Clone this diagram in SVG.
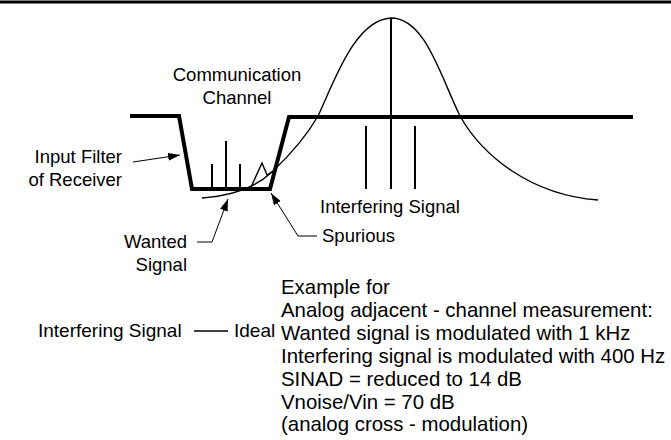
<svg xmlns="http://www.w3.org/2000/svg" width="671" height="440" viewBox="0 0 671 440">
  <style>
    text { font-family: "Liberation Sans", Arial, sans-serif; fill: #000; }
    .lbl { font-size: 18.5px; }
    .leg { font-size: 19px; }
    .note { font-size: 20.4px; }
    .thick { fill: none; stroke: #000; stroke-width: 4; stroke-linejoin: miter; }
    .bar { stroke: #000; stroke-width: 2; }
    .thin { fill: none; stroke: #000; stroke-width: 1.4; }
    .lead { fill: none; stroke: #000; stroke-width: 1; }
  </style>
  <defs>
    <marker id="arrow" viewBox="0 0 12 8" refX="12" refY="4" markerWidth="12" markerHeight="8" markerUnits="userSpaceOnUse" orient="auto">
      <path d="M0,0 L12,4 L0,8 z" fill="#000"/>
    </marker>
  </defs>

  <!-- page rule -->
  <line x1="0" y1="2" x2="671" y2="2" stroke="#000" stroke-width="3"/>

  <!-- receiver input filter passband -->
  <g id="input-filter">
    <path class="thick" d="M130,116 L179,116 L192,189 L270,189 L289,117 L633,117"/>
  </g>

  <!-- wanted signal spectrum lines -->
  <g id="wanted-signal">
    <line class="bar" x1="212" y1="164" x2="212" y2="189"/>
    <line class="bar" x1="226" y1="141" x2="226" y2="189"/>
    <line class="bar" x1="240" y1="164" x2="240" y2="189"/>
  </g>

  <!-- interfering signal envelope and spectrum lines -->
  <g id="interfering-signal">
    <path class="thin" d="M202,198 C230,196 255,188 272,172 C290,155 306,137 318,116 C335,80 355,20 391,18 C425,18 440,75 460,116 C482,155 530,195 598,200"/>
    <line class="bar" x1="391" y1="18" x2="391" y2="189"/>
    <line class="bar" x1="366" y1="126" x2="366" y2="189"/>
    <line class="bar" x1="415" y1="126" x2="415" y2="189"/>
  </g>

  <!-- spurious response -->
  <g id="spurious">
    <polyline class="thin" points="251,187 262,163 267,175 273,171"/>
  </g>

  <!-- labels -->
  <g id="channel-label">
    <text class="lbl" x="237" y="81" text-anchor="middle">Communication</text>
    <text class="lbl" x="237" y="104" text-anchor="middle">Channel</text>
  </g>
  <g id="filter-label">
    <text class="lbl" x="122" y="163" text-anchor="end">Input Filter</text>
    <text class="lbl" x="122" y="186" text-anchor="end">of Receiver</text>
  </g>
  <g id="wanted-label">
    <text class="lbl" x="187" y="248" text-anchor="end">Wanted</text>
    <text class="lbl" x="187" y="271" text-anchor="end">Signal</text>
  </g>
  <g id="spurious-label">
    <text class="lbl" x="322" y="242">Spurious</text>
  </g>
  <g id="interfering-label">
    <text class="lbl" x="320" y="213">Interfering Signal</text>
  </g>

  <!-- leader arrows -->
  <g id="connectors">
    <path class="lead" d="M133,162 L180,155" marker-end="url(#arrow)"/>
    <path class="lead" d="M197,242 L212,242 L228,199" marker-end="url(#arrow)"/>
    <path class="lead" d="M317,236 L298,236 L271,193" marker-end="url(#arrow)"/>
  </g>

  <!-- legend -->
  <g id="legend">
    <text class="leg" x="38" y="337">Interfering Signal</text>
    <line x1="194" y1="331" x2="228" y2="331" stroke="#000" stroke-width="1.3"/>
    <text class="leg" x="234" y="337">Ideal</text>
  </g>

  <!-- measurement notes -->
  <g id="notes">
    <text class="note" x="281" y="294">Example for</text>
    <text class="note" x="281" y="317">Analog adjacent - channel measurement:</text>
    <text class="note" x="281" y="340">Wanted signal is modulated with 1 kHz</text>
    <text class="note" x="281" y="363">Interfering signal is modulated with 400 Hz</text>
    <text class="note" x="281" y="386">SINAD = reduced to 14 dB</text>
    <text class="note" x="281" y="409">Vnoise/Vin = 70 dB</text>
    <text class="note" x="281" y="431">(analog cross - modulation)</text>
  </g>
</svg>
